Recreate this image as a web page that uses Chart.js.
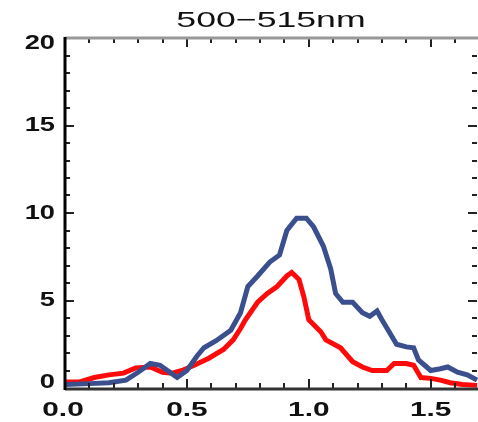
<!DOCTYPE html>
<html>
<head>
<meta charset="utf-8">
<script src="https://cdn.jsdelivr.net/npm/chart.js@4/dist/chart.umd.min.js"></script>
<style>
  html, body { margin: 0; padding: 0; background: #fff; }
  #wrap { width: 478px; height: 422px; }
</style>
</head>
<body>
<div id="wrap"><canvas id="chart" width="478" height="422"></canvas></div>
<script>
const title = '500\u2212515nm';

const blueX = [0.0, 0.1, 0.18, 0.25, 0.3, 0.35, 0.39, 0.43, 0.46, 0.5, 0.54, 0.57, 0.62, 0.68, 0.72, 0.75, 0.79, 0.84, 0.88, 0.91, 0.95, 0.99, 1.02, 1.06, 1.09, 1.11, 1.14, 1.18, 1.22, 1.25, 1.28, 1.30, 1.33, 1.36, 1.40, 1.43, 1.45, 1.50, 1.54, 1.57, 1.61, 1.65, 1.69];
const blueY = [0.2, 0.25, 0.3, 0.45, 0.9, 1.4, 1.3, 0.9, 0.6, 1.0, 1.8, 2.3, 2.7, 3.3, 4.3, 5.8, 6.4, 7.2, 7.6, 9.0, 9.7, 9.7, 9.2, 8.1, 6.8, 5.4, 4.9, 4.9, 4.3, 4.1, 4.4, 3.9, 3.2, 2.5, 2.35, 2.3, 1.6, 1.0, 1.1, 1.2, 0.9, 0.75, 0.45];

const redX = [0.0, 0.06, 0.12, 0.18, 0.24, 0.29, 0.35, 0.40, 0.44, 0.48, 0.53, 0.59, 0.65, 0.69, 0.72, 0.74, 0.79, 0.83, 0.87, 0.91, 0.93, 0.96, 0.98, 1.0, 1.05, 1.07, 1.13, 1.18, 1.22, 1.26, 1.32, 1.35, 1.40, 1.43, 1.46, 1.50, 1.54, 1.58, 1.63, 1.69];
const redY = [0.35, 0.35, 0.6, 0.75, 0.85, 1.15, 1.2, 0.9, 0.85, 1.0, 1.3, 1.7, 2.2, 2.75, 3.4, 3.9, 4.9, 5.4, 5.8, 6.4, 6.6, 6.2, 5.2, 3.9, 3.2, 2.75, 2.3, 1.5, 1.2, 1.0, 1.0, 1.4, 1.4, 1.3, 0.6, 0.55, 0.45, 0.3, 0.2, 0.15];

const xTicks = [0.0, 0.5, 1.0, 1.5];
const xTickLabels = ['0.0', '0.5', '1.0', '1.5'];
const yTicks = [0, 5, 10, 15, 20];
const yTickLabels = ['0', '5', '10', '15', '20'];

function pairs(xs, ys) {
    return xs.map((x, i) => ({ x: x, y: ys[i] }));
}

// draw text stretched horizontally, like the original bitmap font
function wideText(ctx, text, x, y, stretch, align) {
    ctx.save();
    const w = ctx.measureText(text).width * stretch;
    let left = x;
    if (align === 'center') left = x - w / 2;
    if (align === 'right') left = x - w;
    ctx.translate(left, y);
    ctx.scale(stretch, 1);
    ctx.textAlign = 'left';
    ctx.fillText(text, 0, 0);
    ctx.restore();
}

const framePlugin = {
    id: 'frame',
    afterDatasetsDraw(chart) {
        const ctx = chart.ctx;
        const a = chart.chartArea;
        const xs = chart.scales.x;
        const ys = chart.scales.y;
        ctx.save();

        // minor / major ticks, pointing inward
        ctx.strokeStyle = '#222';
        ctx.lineWidth = 2;
        for (let i = 1; i <= 16; i++) {
            const v = i / 10;
            const px = Math.round(xs.getPixelForValue(v));
            const len = (i % 5 === 0) ? 9 : 5;
            ctx.beginPath();
            ctx.moveTo(px, a.bottom);
            ctx.lineTo(px, a.bottom - len);
            ctx.moveTo(px, a.top);
            ctx.lineTo(px, a.top + len);
            ctx.stroke();
        }
        for (let v = 1; v < 20; v++) {
            const py = Math.round(ys.getPixelForValue(v));
            const len = (v % 5 === 0) ? 9 : 5;
            ctx.beginPath();
            ctx.moveTo(a.left, py);
            ctx.lineTo(a.left + len, py);
            ctx.moveTo(a.right, py);
            ctx.lineTo(a.right - len, py);
            ctx.stroke();
        }

        // frame
        ctx.lineWidth = 3;
        ctx.strokeStyle = '#999';
        ctx.beginPath();
        ctx.moveTo(a.left, a.top);
        ctx.lineTo(a.right + 2, a.top);
        ctx.stroke();
        ctx.strokeStyle = '#333';
        ctx.beginPath();
        ctx.moveTo(a.left, a.bottom + 1);
        ctx.lineTo(a.right + 2, a.bottom + 1);
        ctx.stroke();
        ctx.strokeStyle = '#000';
        ctx.beginPath();
        ctx.moveTo(a.left, a.top - 1);
        ctx.lineTo(a.left, a.bottom + 2);
        ctx.stroke();

        // labels
        ctx.fillStyle = '#111';
        ctx.textBaseline = 'middle';
        ctx.font = 'bold 21px "Liberation Sans", Arial, sans-serif';
        yTicks.forEach((v, i) => {
            let py = ys.getPixelForValue(v);
            py = Math.min(Math.max(py, a.top + 5), a.bottom - 6);
            wideText(ctx, yTickLabels[i], 55, py, 1.3, 'right');
        });
        xTicks.forEach((v, i) => {
            let px = xs.getPixelForValue(v);
            if (i === 0) px -= 2;
            wideText(ctx, xTickLabels[i], px, 410, 1.42, 'center');
        });

        ctx.font = '22px "Liberation Sans", Arial, sans-serif';
        wideText(ctx, title, 271, 21, 1.62, 'center');
        ctx.restore();
    }
};

new Chart(document.getElementById('chart').getContext('2d'), {
    type: 'scatter',
    data: {
        datasets: [
            {
                label: 'red',
                data: pairs(redX, redY),
                showLine: true,
                borderColor: '#ff0a0a',
                borderWidth: 5,
                pointRadius: 0,
                clip: false,
                order: 2
            },
            {
                label: 'blue',
                data: pairs(blueX, blueY),
                showLine: true,
                borderColor: '#3b4f8e',
                borderWidth: 5,
                pointRadius: 0,
                clip: false,
                order: 1
            }
        ]
    },
    options: {
        responsive: false,
        animation: false,
        layout: {
            padding: { left: 65, right: 1, top: 38, bottom: 34 }
        },
        scales: {
            x: { type: 'linear', min: 0, max: 1.69, display: false },
            y: { type: 'linear', min: 0, max: 20, display: false }
        },
        plugins: {
            legend: { display: false },
            tooltip: { enabled: false }
        }
    },
    plugins: [framePlugin]
});
</script>
</body>
</html>
